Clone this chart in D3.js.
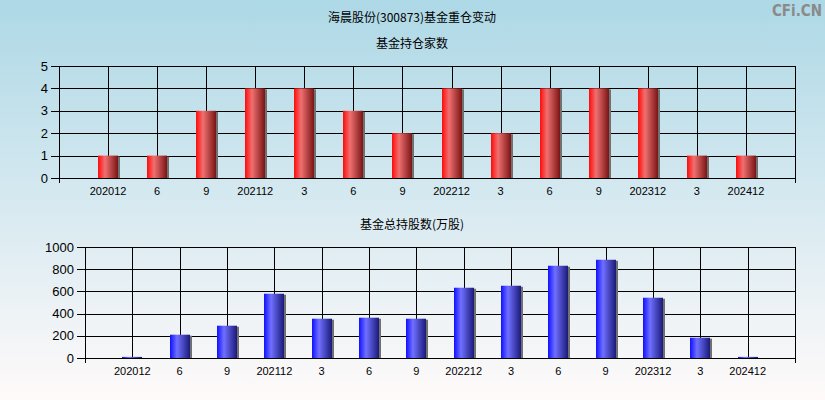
<!DOCTYPE html>
<html><head><meta charset="utf-8">
<script src="https://cdn.jsdelivr.net/npm/d3@7"></script>
<style>body{margin:0;padding:0;overflow:hidden}svg{display:block}</style>
</head><body>
<script>
const categories = ["202012","6","9","202112","3","6","9","202212","3","6","9","202312","3","202412"];
const fundCount = [1,1,3,4,4,3,2,4,2,4,4,4,1,1];
const fundShares = [10,210,291,579,354,363,354,633,651,831,885,543,183,10];
const countTicks = [0,1,2,3,4,5];
const shareTicks = [0,200,400,600,800,1000];
const mainTitle = "海晨股份(300873)基金重仓变动";
const title1 = "基金持仓家数";
const title2 = "基金总持股数(万股)";

const W = 825, H = 400;
const svg = d3.select("body").append("svg").attr("width", W).attr("height", H);
const defs = svg.append("defs");
const bg = defs.append("linearGradient").attr("id","bg").attr("x1",0).attr("y1",0).attr("x2",0).attr("y2",1);
bg.append("stop").attr("offset","0%").attr("stop-color","#add8e6");
bg.append("stop").attr("offset","100%").attr("stop-color","#fffafa");
svg.append("rect").attr("width",W).attr("height",H).attr("fill","url(#bg)");

function grad(id, c0, c1, c2){
  const g = defs.append("linearGradient").attr("id",id).attr("x1",0).attr("y1",0).attr("x2",1).attr("y2",0);
  g.append("stop").attr("offset","0%").attr("stop-color",c0);
  g.append("stop").attr("offset","35%").attr("stop-color",c1);
  g.append("stop").attr("offset","100%").attr("stop-color",c2);
}
grad("red","#ff0a0a","#f07070","#7a1414");
grad("blue","#1010ff","#7070ff","#1a1a7a");

const cjk = "'Noto Sans CJK SC', sans-serif";
const num = "'Liberation Sans', Arial, sans-serif";

svg.append("text").attr("x",412).attr("y",22).attr("text-anchor","middle")
  .style("font-family",cjk).style("font-size","12px").attr("fill","#000").text(mainTitle);
svg.append("text").attr("x",822).attr("y",16).attr("text-anchor","end")
  .style("font-family","'DejaVu Sans Condensed','Liberation Sans Narrow',sans-serif").style("font-size","15px")
  .style("font-weight","bold").attr("fill","#8a8a8a").text("CFi.CN");

function panel(cfg){
  const g = svg.append("g");
  const x = d3.scaleLinear().domain([0, categories.length+1]).range([cfg.left, cfg.right]);
  const y = d3.scaleLinear().domain([0, d3.max(cfg.ticks)]).range([cfg.bottom, cfg.top]);
  g.append("text").attr("x",412).attr("y",cfg.titleY).attr("text-anchor","middle")
    .style("font-family",cjk).style("font-size","12px").attr("fill","#000").text(cfg.title);
  // horizontal gridlines with outward ticks
  g.selectAll(".hg").data(cfg.ticks).enter().append("line")
    .attr("x1",cfg.left-8).attr("x2",cfg.right)
    .attr("y1",d=>Math.round(y(d))+0.5).attr("y2",d=>Math.round(y(d))+0.5)
    .attr("stroke","#000").attr("stroke-width",1);
  // vertical gridlines at categories
  g.selectAll(".vg").data(categories).enter().append("line")
    .attr("x1",(d,i)=>Math.round(x(i+1))+0.5).attr("x2",(d,i)=>Math.round(x(i+1))+0.5)
    .attr("y1",cfg.top).attr("y2",cfg.bottom)
    .attr("stroke","#000").attr("stroke-width",1);
  // frame edges
  [cfg.left, cfg.right].forEach(xx=>{
    g.append("line").attr("x1",Math.round(xx)+0.5).attr("x2",Math.round(xx)+0.5)
      .attr("y1",cfg.top).attr("y2",cfg.bottom+5).attr("stroke","#000");
  });
  // y labels
  g.selectAll(".yl").data(cfg.ticks).enter().append("text")
    .attr("x",cfg.left-11).attr("y",d=>y(d)).attr("dy","0.35em").attr("text-anchor","end")
    .style("font-family",num).style("font-size","13px").attr("fill","#000").text(d=>d);
  // x labels
  g.selectAll(".xl").data(categories).enter().append("text")
    .attr("x",(d,i)=>x(i+1)).attr("y",cfg.bottom+17).attr("text-anchor","middle")
    .style("font-family",num).style("font-size","11px").attr("fill","#000").text(d=>d);
  // bars: shadow + gradient
  const bw = 20;
  g.selectAll(".sh").data(cfg.values).enter().append("rect")
    .attr("x",(d,i)=>Math.round(x(i+1))-bw/2+2).attr("width",bw)
    .attr("y",d=>y(d)+1).attr("height",d=>Math.max(0,y(0)-y(d)-1))
    .attr("fill","#707070");
  g.selectAll(".bar").data(cfg.values).enter().append("rect")
    .attr("x",(d,i)=>Math.round(x(i+1))-bw/2).attr("width",bw)
    .attr("y",d=>y(d)).attr("height",d=>y(0)-y(d))
    .attr("fill",`url(#${cfg.grad})`);
  // redraw baseline over bars
  g.append("line").attr("x1",cfg.left-8).attr("x2",cfg.right)
    .attr("y1",Math.round(y(0))+0.5).attr("y2",Math.round(y(0))+0.5).attr("stroke","#000");
}

panel({title:title1,titleY:48,left:59,right:795,top:66,bottom:178,ticks:countTicks,values:fundCount,grad:"red"});
panel({title:title2,titleY:229,left:85,right:795,top:247,bottom:358,ticks:shareTicks,values:fundShares,grad:"blue"});
</script>
</body></html>
